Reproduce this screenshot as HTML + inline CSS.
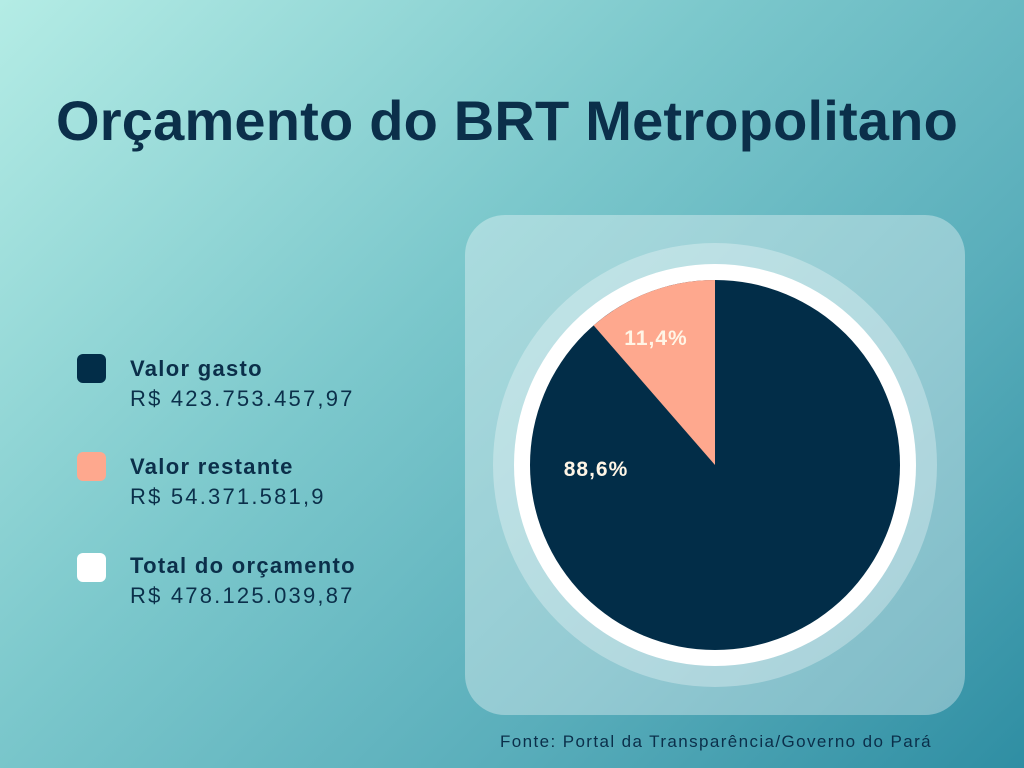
<!DOCTYPE html>
<html><head><meta charset="utf-8"><style>
html,body{margin:0;padding:0}
body{width:1024px;height:768px;position:relative;overflow:hidden;
background:linear-gradient(135deg,#b4ece5 0%,#7cc8cc 40%,#5aaebb 70%,#2f8ea3 100%);
font-family:"Liberation Sans",sans-serif;color:#0b2f4a}
h1{position:absolute;left:0;width:1014px;top:88px;margin:0;text-align:center;font-size:56px;font-weight:bold;letter-spacing:0.2px}
.sq{position:absolute;left:77px;width:29px;height:29px;border-radius:6px}
.lb{position:absolute;left:130px;font-size:22px;line-height:30px;letter-spacing:2.2px}
.lb b{display:block;letter-spacing:1.3px}
.panel{position:absolute;left:465px;top:215px;width:500px;height:500px;border-radius:40px;background:rgba(255,255,255,0.35)}
.src{position:absolute;left:500px;top:732px;font-size:17px;color:#0b2f4a;letter-spacing:1.4px}
</style></head><body>
<h1>Orçamento do BRT Metropolitano</h1>
<div class="sq" style="top:354px;background:#022d48"></div>
<div class="lb" style="top:354px"><b>Valor gasto</b>R$ 423.753.457,97</div>
<div class="sq" style="top:452px;background:#fea88e"></div>
<div class="lb" style="top:452px"><b>Valor restante</b>R$ 54.371.581,9</div>
<div class="sq" style="top:553px;background:#fff"></div>
<div class="lb" style="top:551px"><b>Total do orçamento</b>R$ 478.125.039,87</div>
<div class="panel"></div>
<svg style="position:absolute;left:0;top:0" width="1024" height="768">
<circle cx="715" cy="465" r="222" fill="rgba(255,255,255,0.3)"/>
<circle cx="715" cy="465" r="201" fill="#fff"/>
<circle cx="715" cy="465" r="185" fill="#022d48"/>
<path d="M715 465 L715 280 A185 185 0 0 0 593.6 325.4 Z" fill="#fea88e"/>
<text x="656" y="345" text-anchor="middle" font-family="Liberation Sans" font-weight="bold" font-size="21" letter-spacing="1" fill="#fff5e6">11,4%</text>
<text x="596" y="476" text-anchor="middle" font-family="Liberation Sans" font-weight="bold" font-size="21" letter-spacing="1" fill="#fff5e6">88,6%</text>
</svg>
<div class="src">Fonte: Portal da Transparência/Governo do Pará</div>
</body></html>
